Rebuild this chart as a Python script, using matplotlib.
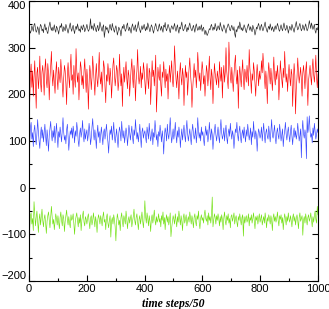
import numpy as np
import matplotlib
matplotlib.use('Agg')
import matplotlib.pyplot as plt

# values, one every 2.5 time steps
black_vals = [
    322, 338, 331, 336, 347, 341, 335, 349, 352, 340, 333, 337, 345, 339, 328, 342, 350, 346, 336, 340,
    332, 345, 351, 338, 343, 334, 330, 341, 348, 355, 343, 337, 344, 336, 341, 349, 338, 333, 346, 342,
    337, 329, 340, 347, 343, 352, 339, 334, 345, 341, 336, 350, 344, 338, 331, 339, 346, 353, 341, 335,
    343, 348, 337, 330, 342, 346, 339, 351, 344, 336, 340, 333, 347, 342, 338, 349, 345, 334, 339, 343,
    350, 341, 335, 338, 346, 362, 340, 347, 343, 337, 352, 345, 339, 334, 343, 348, 336, 341, 355, 347,
    340, 335, 344, 349, 322, 335, 346, 339, 343, 336, 331, 345, 350, 341, 337, 352, 344, 338, 333, 342,
    347, 339, 327, 334, 344, 340, 336, 325, 338, 346, 341, 350, 343, 335, 339, 348, 353, 340, 336, 344,
    338, 331, 345, 351, 342, 337, 343, 349, 334, 340, 346, 356, 343, 338, 332, 341, 347, 339, 344, 350,
    341, 336, 345, 338, 353, 347, 340, 334, 342, 349, 345, 337, 331, 340, 346, 352, 343, 338, 335, 344,
    351, 342, 337, 346, 339, 333, 348, 344, 354, 341, 336, 343, 350, 345, 338, 332, 341, 347, 343, 339,
    346, 352, 340, 335, 343, 349, 338, 331, 344, 340, 347, 355, 342, 336, 339, 345, 350, 341, 334, 343,
    338, 347, 353, 344, 339, 336, 342, 348, 340, 333, 345, 351, 343, 337, 340, 346, 338, 342, 349, 335,
    341, 344, 334, 328, 337, 331, 326, 330, 335, 341, 338, 346, 350, 342, 337, 344, 339, 352, 345, 336,
    340, 347, 343, 338, 354, 346, 340, 335, 342, 349, 344, 337, 331, 341, 345, 351, 347, 339, 336, 343,
    348, 341, 337, 345, 330, 322, 339, 334, 342, 347, 340, 355, 346, 338, 343, 336, 341, 349, 344, 338,
    332, 340, 346, 351, 343, 337, 345, 339, 334, 348, 342, 338, 327, 333, 344, 340, 347, 352, 343, 337,
    345, 350, 341, 336, 342, 348, 355, 344, 338, 333, 341, 346, 339, 351, 343, 337, 345, 340, 334, 342,
    347, 339, 344, 352, 346, 338, 335, 343, 349, 341, 336, 345, 353, 344, 337, 340, 348, 342, 331, 339,
    346, 341, 337, 350, 344, 339, 333, 342, 348, 356, 345, 338, 341, 347, 352, 343, 336, 340, 349, 344,
    337, 345, 351, 342, 336, 340, 347, 358, 349, 341, 353, 346, 339, 344, 350, 336, 331, 342, 338, 344,
]
red_vals = [
    228, 180, 242, 265, 215, 250, 196, 238, 272, 224, 170, 246, 258, 212, 234, 282, 226, 205, 248, 262,
    238, 198, 255, 276, 230, 214, 266, 244, 188, 236, 260, 292, 240, 218, 252, 228, 202, 245, 270, 232,
    210, 258, 240, 225, 275, 248, 218, 194, 236, 262, 250, 222, 178, 244, 268, 238, 214, 256, 286, 230,
    242, 200, 262, 234, 215, 298, 252, 226, 246, 188, 232, 270, 258, 220, 240, 212, 250, 276, 236, 204,
    254, 230, 168, 224, 262, 244, 210, 236, 282, 252, 226, 198, 240, 266, 232, 216, 250, 290, 238, 222,
    248, 205, 235, 272, 258, 214, 182, 242, 228, 266, 246, 220, 256, 236, 192, 230, 264, 278, 244, 218,
    236, 262, 250, 208, 226, 286, 240, 218, 244, 174, 232, 258, 226, 248, 270, 234, 212, 252, 240, 196,
    228, 254, 276, 238, 214, 262, 242, 186, 230, 250, 296, 244, 222, 236, 260, 214, 246, 232, 268, 252,
    224, 200, 240, 266, 234, 212, 256, 246, 178, 228, 272, 238, 252, 218, 244, 284, 162, 206, 258, 240,
    230, 264, 220, 196, 248, 236, 270, 242, 214, 254, 228, 244, 190, 238, 262, 226, 250, 272, 232, 216,
    246, 304, 262, 232, 214, 250, 228, 190, 244, 268, 236, 220, 256, 240, 176, 226, 262, 236, 248, 198,
    232, 256, 278, 244, 222, 172, 210, 240, 266, 236, 252, 214, 242, 290, 258, 228, 246, 208, 236, 270,
    254, 222, 240, 196, 230, 262, 248, 218, 244, 282, 236, 210, 254, 238, 180, 226, 266, 246, 232, 220,
    250, 236, 214, 270, 244, 228, 258, 192, 240, 262, 226, 248, 300, 250, 232, 212, 312, 268, 238, 224,
    258, 230, 206, 242, 266, 284, 240, 222, 252, 170, 236, 260, 238, 216, 248, 274, 232, 210, 254, 242,
    226, 262, 240, 218, 296, 256, 236, 202, 244, 230, 268, 250, 224, 196, 238, 264, 242, 218, 250, 232,
    240, 272, 246, 288, 262, 236, 212, 250, 228, 180, 240, 268, 244, 222, 256, 234, 208, 246, 280, 238,
    220, 250, 232, 262, 240, 188, 226, 272, 248, 230, 214, 256, 236, 292, 250, 226, 244, 206, 238, 264,
    236, 218, 254, 242, 174, 228, 266, 240, 158, 212, 236, 278, 248, 224, 240, 258, 230, 196, 246, 262,
    240, 212, 250, 270, 226, 176, 230, 246, 262, 238, 220, 254, 276, 242, 226, 250, 284, 236, 214, 244,
]
blue_vals = [
    112, 96, 128, 140, 104, 118, 88, 122, 134, 108, 92, 116, 146, 120, 100, 84, 114, 130, 106, 124,
    98, 118, 136, 110, 90, 124, 104, 78, 112, 128, 142, 116, 100, 122, 108, 132, 96, 118, 138, 110,
    86, 120, 108, 130, 114, 98, 126, 150, 118, 102, 112, 94, 124, 136, 110, 80, 104, 122, 114, 128,
    106, 132, 118, 96, 122, 110, 140, 124, 100, 88, 116, 128, 108, 120, 144, 112, 98, 126, 104, 116,
    124, 100, 114, 138, 120, 92, 106, 130, 148, 118, 102, 124, 110, 84, 116, 134, 108, 120, 96, 112,
    130, 110, 92, 118, 126, 104, 120, 136, 112, 98, 74, 108, 124, 114, 132, 102, 118, 140, 110, 96,
    112, 126, 104, 86, 116, 130, 120, 100, 142, 118, 106, 122, 96, 112, 128, 116, 90, 110, 134, 120,
    102, 116, 132, 108, 94, 124, 112, 146, 122, 104, 118, 98, 114, 136, 110, 86, 120, 128, 106, 116,
    122, 108, 96, 130, 118, 104, 138, 116, 100, 112, 126, 92, 118, 108, 144, 124, 102, 114, 88, 120,
    110, 134, 116, 98, 122, 106, 72, 112, 128, 118, 100, 136, 114, 104, 124, 150, 116, 96, 110, 126,
    104, 118, 140, 112, 96, 122, 108, 130, 116, 86, 110, 126, 102, 118, 134, 112, 98, 124, 144, 116,
    100, 114, 126, 108, 92, 120, 136, 118, 104, 112, 128, 96, 114, 150, 122, 106, 118, 100, 130, 112,
    120, 104, 90, 116, 132, 112, 124, 98, 110, 140, 118, 102, 126, 114, 82, 108, 122, 136, 114, 100,
    116, 130, 110, 96, 124, 146, 118, 104, 112, 128, 100, 120, 134, 108, 94, 116, 126, 110, 138, 118,
    104, 122, 112, 84, 108, 126, 118, 140, 114, 100, 120, 132, 110, 96, 116, 124, 106, 130, 112, 98,
    124, 110, 136, 118, 102, 114, 128, 92, 120, 108, 142, 116, 104, 122, 112, 78, 110, 126, 118, 106,
    114, 130, 100, 120, 138, 112, 96, 118, 126, 110, 104, 132, 116, 98, 122, 146, 112, 106, 120, 134,
    108, 94, 118, 128, 112, 104, 136, 120, 100, 114, 126, 88, 110, 122, 140, 116, 102, 118, 130, 112,
    98, 120, 134, 110, 92, 116, 128, 108, 122, 104, 114, 138, 118, 100, 112, 126, 64, 120, 144, 116,
    106, 124, 112, 62, 152, 118, 130, 154, 122, 108, 116, 96, 128, 112, 138, 120, 104, 114, 126, 118,
]
green_vals = [
    -72, -88, -60, -54, -78, -66, -92, -30, -58, -82, -64, -50, -74, -96, -68, -56, -80, -62, -46, -70,
    -84, -66, -58, -76, -98, -72, -60, -52, -70, -86, -64, -40, -62, -78, -68, -90, -74, -56, -66, -80,
    -60, -74, -88, -64, -52, -70, -82, -58, -66, -94, -72, -60, -48, -68, -80, -62, -76, -86, -58, -70,
    -66, -56, -78, -100, -72, -62, -54, -70, -84, -64, -76, -58, -92, -70, -60, -50, -74, -82, -62, -68,
    -78, -64, -56, -72, -88, -66, -60, -80, -70, -54, -68, -84, -62, -74, -96, -70, -58, -66, -78, -60,
    -70, -82, -62, -52, -74, -68, -90, -64, -56, -76, -86, -70, -60, -106, -72, -64, -78, -58, -68, -84,
    -114, -74, -56, -66, -80, -70, -92, -64, -54, -72, -84, -60, -68, -78, -50, -66, -88, -70, -62, -76,
    -66, -58, -84, -72, -62, -46, -70, -80, -64, -56, -74, -90, -68, -60, -78, -66, -52, -72, -86, -64,
    -28, -62, -76, -54, -66, -82, -60, -72, -94, -66, -58, -76, -64, -48, -70, -80, -62, -74, -68, -56,
    -74, -66, -84, -60, -70, -52, -78, -64, -90, -68, -58, -74, -62, -80, -70, -54, -105, -86, -72, -60,
    -68, -78, -56, -70, -84, -62, -74, -50, -66, -80, -60, -72, -92, -64, -56, -76, -68, -58, -82, -70,
    -62, -74, -52, -66, -78, -60, -70, -86, -64, -56, -72, -82, -60, -68, -50, -74, -88, -66, -58, -70,
    -64, -76, -58, -48, -66, -72, -60, -80, -54, -70, -62, -76, -58, -20, -84, -70, -56, -64, -78, -60,
    -70, -56, -66, -82, -62, -74, -58, -68, -90, -64, -52, -72, -80, -60, -70, -56, -76, -66, -86, -62,
    -58, -72, -64, -54, -78, -66, -60, -74, -84, -62, -70, -56, -68, -80, -64, -58, -104, -62, -76, -66,
    -60, -74, -68, -56, -82, -64, -70, -58, -76, -66, -54, -72, -88, -62, -70, -60, -78, -66, -56, -74,
    -66, -58, -80, -70, -62, -76, -54, -68, -86, -64, -72, -58, -66, -78, -60, -70, -92, -64, -56, -72,
    -62, -74, -66, -52, -70, -82, -60, -68, -58, -76, -64, -90, -70, -56, -66, -80, -62, -72, -54, -68,
    -74, -60, -70, -84, -64, -56, -72, -62, -80, -66, -58, -70, -88, -64, -54, -72, -66, -60, -102, -70,
    -62, -76, -56, -68, -80, -64, -58, -72, -66, -54, -70, -84, -62, -74, -60, -50, -68, -76, -40, -58,
]

x_ticks = [0, 200, 400, 600, 800, 1000]
y_ticks = [-200, -100, 0, 100, 200, 300, 400]

steps = np.linspace(0, 1000, len(black_vals))

fig = plt.figure(figsize=(3.29, 3.09), dpi=100)
ax = fig.add_axes([0.088, 0.0906, 0.8786, 0.9062])

ax.plot(steps, black_vals, color='#222222', lw=0.45)
ax.plot(steps, red_vals, color='#ff0000', lw=0.45)
ax.plot(steps, blue_vals, color='#3344ff', lw=0.45)
ax.plot(steps, green_vals, color='#70e010', lw=0.45)

ax.set_xlim(0, 1000)
ax.set_ylim(-200, 400)
ax.set_xticks(x_ticks)
ax.set_xticks(np.arange(100, 1000, 200), minor=True)
ax.set_yticks(y_ticks)
ax.set_yticks(np.arange(-150, 400, 100), minor=True)
ax.tick_params(which='both', direction='in', top=True, right=True, width=0.8)
ax.tick_params(which='major', length=4, labelsize=8, pad=2)
ax.tick_params(which='minor', length=2)
for lab in ax.get_xticklabels() + ax.get_yticklabels():
    lab.set_family('Liberation Sans')
for s in ax.spines.values():
    s.set_linewidth(0.8)

# keep the end labels inside the figure, as in the original
yticks = ax.yaxis.get_major_ticks()
yticks[0].label1.set_verticalalignment('bottom')
yticks[-1].label1.set_verticalalignment('top')

ax.set_xlabel('time steps/50', family='Liberation Serif', style='italic',
              weight='bold', fontsize=8.5, labelpad=3)

fig.savefig('out.png', dpi=100)
